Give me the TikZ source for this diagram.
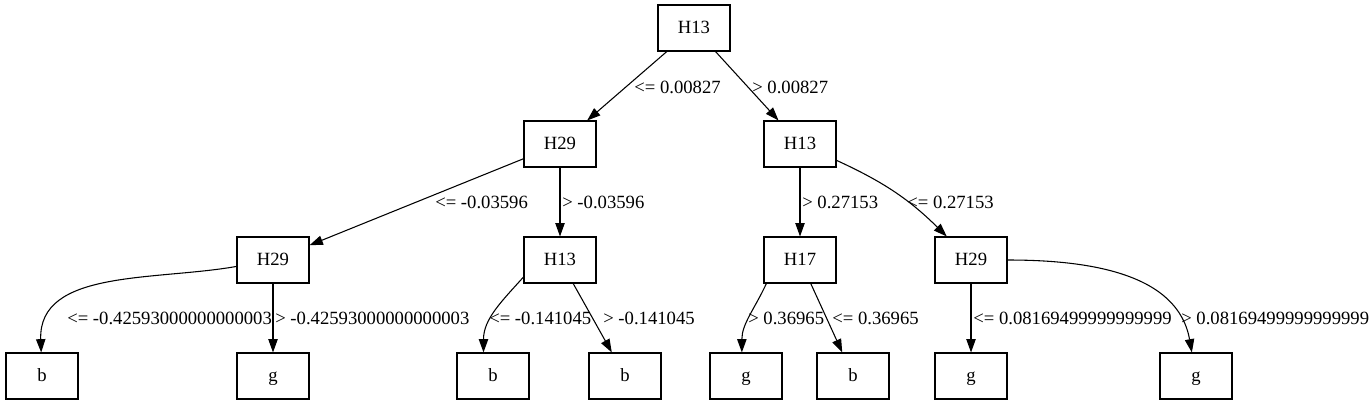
\documentclass[tikz,border=0pt]{standalone}
\usepackage{fontspec}
\setmainfont{Liberation Serif}
\usetikzlibrary{arrows.meta}

\begin{document}
\begin{tikzpicture}[x=0.75pt,y=0.75pt,
every node/.append style={font=\fontsize{14pt}{16pt}\selectfont},
test/.style={draw,line width=0.8pt,minimum width=54pt,minimum height=34.5pt,
inner sep=0pt,text height=10pt,text depth=2.5pt},
cond/.style={anchor=base west,inner sep=0pt},
branch/.style={line width=0.8pt,-{Triangle[length=10pt,width=7pt]}}]
\useasboundingbox (0,0) rectangle (1369,-407);

\node[test] (root) at (694,-28) {H13};
\node[test] (h29a) at (560,-144) {H29};
\node[test] (h13a) at (800,-144) {H13};
\node[test] (h29b) at (273,-260) {H29};
\node[test] (h13b) at (560,-260) {H13};
\node[test] (h17) at (800,-260) {H17};
\node[test] (h29c) at (971,-260) {H29};
\node[test] (b1) at (42,-376) {b};
\node[test] (g1) at (273,-376) {g};
\node[test] (b2) at (493,-376) {b};
\node[test] (b3) at (625,-376) {b};
\node[test] (g2) at (746,-376) {g};
\node[test] (b4) at (853,-376) {b};
\node[test] (g3) at (971,-376) {g};
\node[test] (g4) at (1196,-376) {g};

\draw[branch] (root) -- (h29a);
\draw[branch] (root) -- (h13a);
\draw[branch] (h29a) -- (h29b);
\draw[branch] (h29a) -- (h13b);
\draw[branch] (h13a) -- (h17);
\draw[branch] (h13a) to[bend left=10] (h29c);
\draw[branch] (h29b) to[out=190,in=92] (b1);
\draw[branch] (h29b) -- (g1);
\draw[branch] (h13b.205) to[out=228,in=90] (b2.112);
\draw[branch] (h13b) -- (b3);
\draw[branch] (h17.215) to[out=245,in=90] (g2.100);
\draw[branch] (h17) -- (b4);
\draw[branch] (h29c) -- (g3);
\draw[branch] (h29c.0) to[out=0,in=100] (g4);

\node[cond] (c1) at (634,-93) {<= 0.00827};
\node[cond] (c2) at (752,-93) {> 0.00827};
\node[cond] (c3) at (435,-208) {<= -0.03596};
\node[cond] (c4) at (562,-208) {> -0.03596};
\node[cond] (c5) at (802,-208) {> 0.27153};
\node[cond] (c6) at (907,-208) {<= 0.27153};
\node[cond] (c7) at (67,-324) {<= -0.42593000000000003};
\node[cond] (c8) at (275,-324) {> -0.42593000000000003};
\node[cond] (c9) at (489,-324) {<= -0.141045};
\node[cond] (c10) at (603,-324) {> -0.141045};
\node[cond] (c11) at (748,-324) {> 0.36965};
\node[cond] (c12) at (832,-324) {<= 0.36965};
\node[cond] (c13) at (973,-324) {<= 0.08169499999999999};
\node[cond] (c14) at (1181,-324) {> 0.08169499999999999};
\end{tikzpicture}
\end{document}
